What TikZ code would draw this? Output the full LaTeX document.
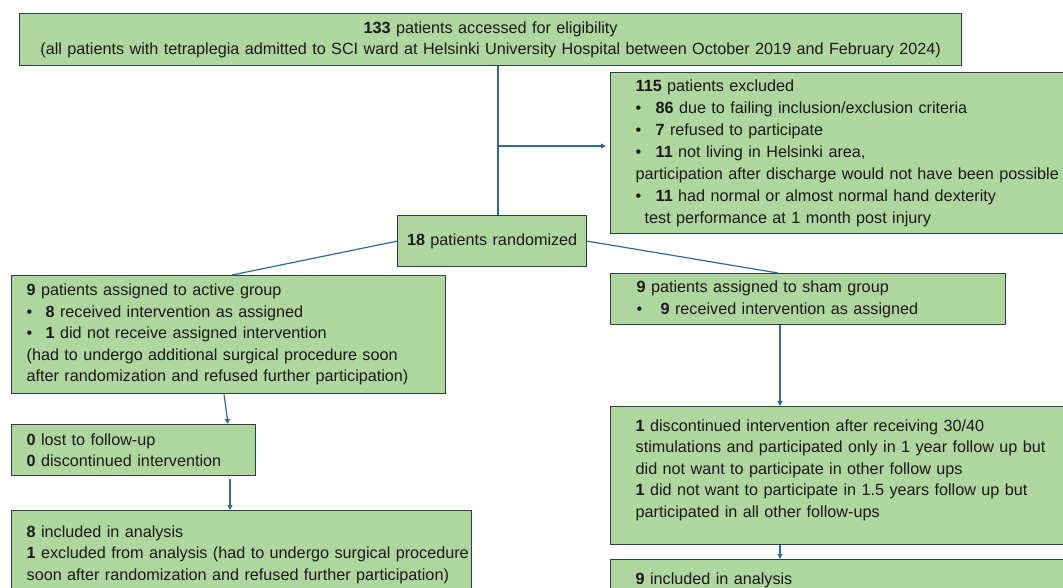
\documentclass[tikz,border=0pt]{standalone}
\usepackage{fontspec}
\setmainfont{Liberation Sans}
\usetikzlibrary{arrows.meta,calc}
\definecolor{boxfill}{HTML}{AED69E}
\definecolor{boxline}{HTML}{2F3E46}
\definecolor{linkblue}{HTML}{2E6A9E}
\definecolor{txt}{HTML}{1A1A1A}
\newcommand{\mybul}[1][20pt]{\makebox[#1][l]{•}}
\newcommand{\fsz}{\fontsize{16.2pt}{21.5pt}\selectfont}
\newcommand{\fszw}{\fontsize{16.2pt}{22pt}\selectfont}
\begin{document}
\begin{tikzpicture}[x=1pt,y=-1pt,
  box/.style={draw=boxline, fill=boxfill, line width=1.3pt, anchor=north west,
    align=left, inner ysep=0pt, font=\fsz, text=txt},
  conn/.style={draw=linkblue, line width=1.2pt},
  arr/.style={conn, -{Triangle[length=5pt,width=5pt]}}]
\clip (0,0) rectangle (1063,587);
\fill[white] (0,0) rectangle (1063,587);

\node[box, align=center, minimum width=942pt, minimum height=52pt, text width=930pt, inner xsep=6pt] (top) at (19,13)
 {\textbf{133} patients accessed for eligibility\\
  \mbox{(all patients with tetraplegia admitted to SCI ward at Helsinki University Hospital between October 2019 and February 2024)}};

\node[box, font=\fszw, minimum width=500pt, minimum height=161pt, text width=450pt, inner xsep=25pt] (excl) at (610,72)
 {\textbf{115} patients excluded\\
  \mybul\textbf{86} due to failing inclusion/exclusion criteria\\
  \mybul\textbf{7} refused to participate\\
  \mybul\textbf{11} not living in Helsinki area,\\
  \mbox{participation after discharge would not have been possible}\\
  \mybul\textbf{11} had normal or almost normal hand dexterity\\
  \hspace*{9pt}test performance at 1 month post injury};

\node[box, align=center, minimum width=189pt, minimum height=51pt, text width=181pt, inner xsep=4pt] (rnd) at (397,215)
 {\textbf{18} patients randomized};

\node[box, minimum width=434pt, minimum height=118pt, text width=404pt, inner xsep=15pt] (active) at (11,275)
 {\textbf{9} patients assigned to active group\\
  \mybul[19pt]\textbf{8} received intervention as assigned\\
  \mybul[19pt]\textbf{1} did not receive assigned intervention\\
  \mbox{(had to undergo additional surgical procedure soon}\\
  \mbox{after randomization and refused further participation)}};

\node[box, minimum width=395pt, minimum height=51pt, text width=343pt, inner xsep=26pt] (sham) at (610,273)
 {\textbf{9} patients assigned to sham group\\
  \mybul[24pt]\textbf{9} received intervention as assigned};

\node[box, minimum width=244pt, minimum height=51pt, text width=214pt, inner xsep=15pt] (lost) at (11,424)
 {\textbf{0} lost to follow-up\\
  \mbox{\textbf{0} discontinued intervention}};

\node[box, minimum width=460pt, minimum height=88pt, text width=430pt, inner xsep=15pt] (inca) at (11,510)
 {\textbf{8} included in analysis\\
  \mbox{\textbf{1} excluded from analysis (had to undergo surgical procedure}\\
  \mbox{soon after randomization and refused further participation)}};

\node[box, minimum width=480pt, minimum height=138pt, text width=430pt, inner xsep=25pt] (shamdisc) at (610,406)
 {\textbf{1} discontinued intervention after receiving 30/40\\
  \mbox{stimulations and participated only in 1 year follow up but}\\
  did not want to participate in other follow ups\\
  \mbox{\textbf{1} did not want to participate in 1.5 years follow up but}\\
  participated in all other follow-ups\rule[-15pt]{0pt}{1pt}};

\node[box, minimum width=480pt, minimum height=42pt, text width=430pt, inner xsep=25pt] (shaminc) at (610,559)
 {\textbf{9} included in analysis};

\coordinate (trunk) at (498,146);
\draw[conn] (top.south -| trunk) -- (rnd.north -| trunk);
\draw[arr, shorten >=4pt] (trunk) -- (trunk -| excl.west);
\draw[conn] (rnd.west) -- ($(active.north west)+(221,0)$);
\draw[conn] (rnd.east) -- ($(sham.north west)+(168,0)$);
\draw[arr] ($(active.south west)+(213,0)$) -- ($(lost.north west)+(217,0)$);
\draw[arr] ($(lost.south west)+(219,3)$) -- ($(inca.north west)+(219,0)$);
\draw[arr] ($(sham.south west)+(170,0)$) -- ($(shamdisc.north west)+(170,0)$);
\draw[arr] ($(shamdisc.south west)+(170,0)$) -- ($(shaminc.north west)+(170,0)$);
\end{tikzpicture}
\end{document}
